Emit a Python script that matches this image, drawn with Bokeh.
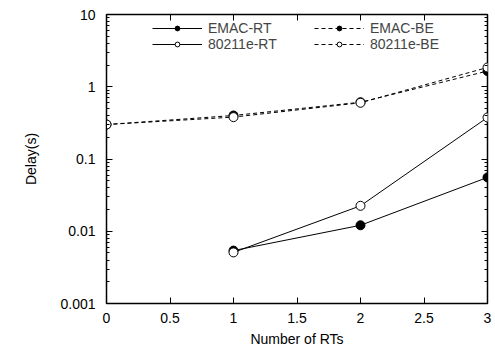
from bokeh.plotting import figure
from bokeh.models import (LogAxis, LinearAxis, SingleIntervalTicker, LogTicker,
                          CustomJSTickFormatter, Legend, LegendItem, Range1d)
from bokeh.embed import file_html
from bokeh.resources import INLINE

# Data
rt_x = [1, 2, 3]
emac_rt = [0.0054, 0.0121, 0.0556]
e80211_rt = [0.0051, 0.0225, 0.376]
be_x = [0, 1, 2, 3]
emac_be = [0.30, 0.40, 0.61, 1.65]
e80211_be = [0.30, 0.38, 0.60, 1.85]
x_ticks = [0, 0.5, 1, 1.5, 2, 2.5, 3]
y_ticks = [0.001, 0.01, 0.1, 1, 10]

FONT = "Liberation Sans"

p = figure(width=495, height=354, y_axis_type="log",
           x_range=Range1d(0, 3), y_range=Range1d(0.001, 10),
           output_backend="svg", toolbar_location=None,
           min_border_left=106, min_border_right=8, min_border_top=14, min_border_bottom=51)
p.grid.visible = False
p.outline_line_color = "black"
p.outline_line_width = 1.5
p.background_fill_color = "white"
p.border_fill_color = "white"

fmt = CustomJSTickFormatter(code="return String(parseFloat(tick.toPrecision(3)));")
blank = CustomJSTickFormatter(code="return '';")

xa = p.xaxis[0]
xa.ticker = SingleIntervalTicker(interval=0.5, num_minor_ticks=0)
xa.formatter = fmt
xa.axis_label = "Number of RTs"
ya = p.yaxis[0]
ya.ticker = LogTicker(num_minor_ticks=10)
ya.formatter = fmt
ya.axis_label = "Delay(s)"

for ax in (xa, ya):
    ax.major_tick_in = 6
    ax.major_tick_out = 0
    ax.minor_tick_in = 3
    ax.minor_tick_out = 0
    ax.axis_line_color = "black"
    ax.major_tick_line_color = "black"
    ax.minor_tick_line_color = "black"
    ax.major_label_text_font = FONT
    ax.major_label_text_font_size = "14px"
    ax.major_label_text_color = "black"
    ax.axis_label_text_font = FONT
    ax.axis_label_text_font_size = "14px"
    ax.axis_label_text_font_style = "normal"
    ax.axis_label_text_color = "black"
xa.major_label_standoff = 9
xa.axis_label_standoff = 5
ya.major_label_standoff = 11
ya.axis_label_standoff = 18

top = LinearAxis(ticker=SingleIntervalTicker(interval=0.5, num_minor_ticks=0),
                 formatter=blank, major_tick_in=6, major_tick_out=0,
                 minor_tick_out=0, axis_line_color=None, major_label_standoff=0)
right = LogAxis(ticker=LogTicker(num_minor_ticks=10), formatter=blank,
                major_tick_in=6, major_tick_out=0, minor_tick_in=3, minor_tick_out=0,
                axis_line_color=None, major_label_standoff=0)
p.add_layout(top, "above")
p.add_layout(right, "right")

r1 = p.line(rt_x, emac_rt, line_color="black", line_width=1)
m1 = p.scatter(rt_x, emac_rt, size=9, fill_color="black", line_color="black")
r2 = p.line(rt_x, e80211_rt, line_color="black", line_width=1)
m2 = p.scatter(rt_x, e80211_rt, size=9, fill_color="white", line_color="black")
r3 = p.line(be_x, emac_be, line_color="black", line_width=1, line_dash="4 3")
m3 = p.scatter(be_x, emac_be, size=9, fill_color="black", line_color="black")
r4 = p.line(be_x, e80211_be, line_color="black", line_width=1, line_dash="4 3")
m4 = p.scatter(be_x, e80211_be, size=9, fill_color="white", line_color="black")

legend = Legend(items=[
    LegendItem(label="EMAC-RT", renderers=[r1, m1]),
    LegendItem(label="80211e-RT", renderers=[r2, m2]),
    LegendItem(label="EMAC-BE", renderers=[r3, m3]),
    LegendItem(label="80211e-BE", renderers=[r4, m4]),
], ncols=2, location=(46, 251), background_fill_alpha=0, border_line_color=None,
   label_text_font=FONT, label_text_font_size="14px", glyph_width=50, glyph_height=12,
   label_height=12, label_width=106, spacing=0, padding=2, margin=0, label_standoff=6)
p.add_layout(legend)

open("out.html", "w").write(file_html(p, INLINE))
